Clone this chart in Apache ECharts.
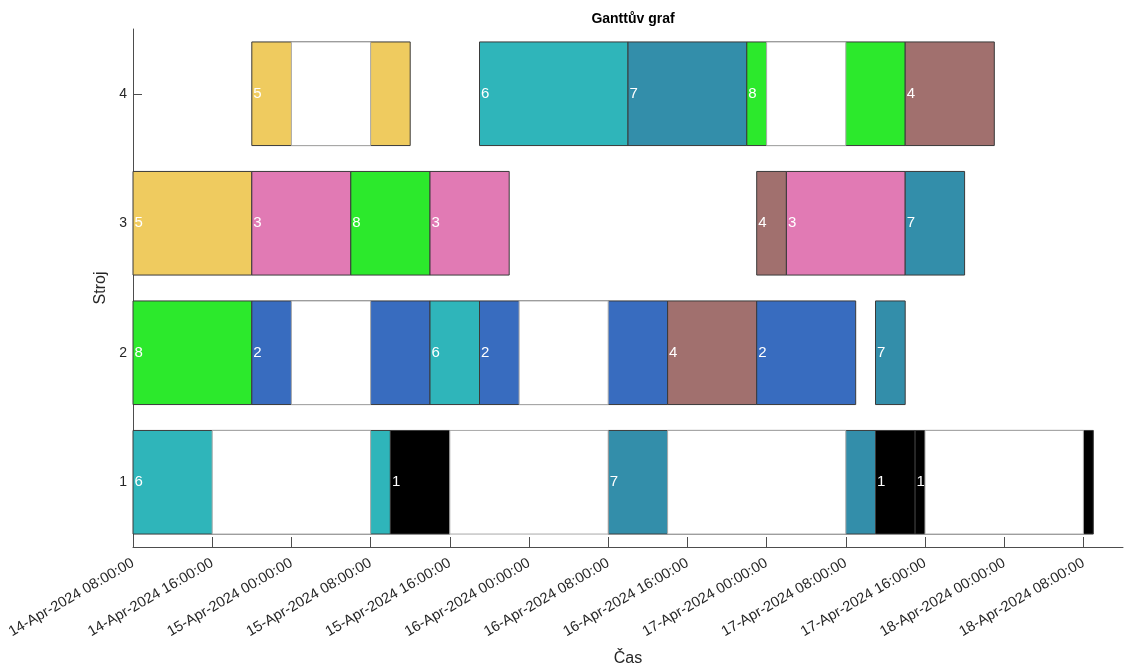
<!DOCTYPE html>
<html>
<head>
<meta charset="utf-8">
<title>Ganttův graf</title>
<script src="https://cdn.jsdelivr.net/npm/echarts@6/dist/echarts.min.js"></script>
<style>
  html, body { margin: 0; padding: 0; background: #fff; }
  #chart { width: 1125px; height: 669px; }
</style>
</head>
<body>
<div id="chart"></div>
<script>
// hours counted from 14-Apr-2024 08:00:00
var machines = ['1', '2', '3', '4'];
var xTicks = [0, 8, 16, 24, 32, 40, 48, 56, 64, 72, 80, 88, 96];

// operations: [machine index, start h, end h, job]
var machine1 = [[0, 0, 26, 6], [0, 26, 32, 1], [0, 48, 75, 7], [0, 75, 79, 1], [0, 79, 97, 1]];
var machine2 = [[1, 0, 12, 8], [1, 12, 30, 2], [1, 30, 35, 6], [1, 35, 54, 2], [1, 54, 63, 4], [1, 63, 73, 2], [1, 75, 78, 7]];
var machine3 = [[2, 0, 12, 5], [2, 12, 22, 3], [2, 22, 30, 8], [2, 30, 38, 3], [2, 63, 66, 4], [2, 66, 78, 3], [2, 78, 84, 7]];
var machine4 = [[3, 12, 28, 5], [3, 35, 50, 6], [3, 50, 62, 7], [3, 62, 78, 8], [3, 78, 87, 4]];

// idle (white) blocks: [machine index, start h, end h]
var idle = [[0, 8, 24], [0, 32, 48], [0, 54, 72], [0, 80, 96],
            [1, 16, 24], [1, 39, 48],
            [3, 16, 24], [3, 64, 72]];

var jobColors = {
  1: '#000000',
  2: '#386cbf',
  3: '#e17ab4',
  4: '#a1706e',
  5: '#efcb5f',
  6: '#2fb5ba',
  7: '#338eaa',
  8: '#2ce92c'
};

var months = ['Jan','Feb','Mar','Apr','May','Jun','Jul','Aug','Sep','Oct','Nov','Dec'];
function pad(n) { return (n < 10 ? '0' : '') + n; }
function hourLabel(h) {
  var d = new Date(Date.UTC(2024, 3, 14, 8) + h * 3600 * 1000);
  return pad(d.getUTCDate()) + '-' + months[d.getUTCMonth()] + '-' + d.getUTCFullYear() + ' ' +
    pad(d.getUTCHours()) + ':' + pad(d.getUTCMinutes()) + ':00';
}

var tasks = machine1.concat(machine2, machine3, machine4).map(function (t) {
  return { value: [t[1], t[2], t[0], t[3]] };
});
var idleData = idle.map(function (t) { return { value: [t[1], t[2], t[0]] }; });

function renderTask(params, api) {
  var y = api.value(2);
  var a = api.coord([api.value(0), y]);
  var b = api.coord([api.value(1), y]);
  var h = api.size([0, 1])[1] * 0.8;
  var job = api.value(3);
  return {
    type: 'rect',
    shape: { x: a[0], y: a[1] - h / 2, width: b[0] - a[0], height: h },
    style: { fill: jobColors[job], stroke: '#3a3a3a', lineWidth: 1 },
    textContent: {
      style: { text: String(job), fill: '#ffffff', fontSize: 15, fontFamily: 'Liberation Sans, Arial, sans-serif' }
    },
    textConfig: { position: 'insideLeft', distance: 2 }
  };
}

function renderIdle(params, api) {
  var y = api.value(2);
  var a = api.coord([api.value(0), y]);
  var b = api.coord([api.value(1), y]);
  var h = api.size([0, 1])[1] * 0.8;
  return {
    type: 'rect',
    shape: { x: a[0], y: a[1] - h / 2, width: b[0] - a[0], height: h },
    style: { fill: '#ffffff', stroke: '#a8a8a8', lineWidth: 1 }
  };
}

var chart = echarts.init(document.getElementById('chart'));
var option = {
  animation: false,
  textStyle: { fontFamily: 'Liberation Sans, Arial, sans-serif' },
  title: {
    text: 'Ganttův graf',
    left: 628,
    textAlign: 'center',
    top: 7,
    textStyle: { fontSize: 14, fontWeight: 'bold', color: '#000' }
  },
  grid: { left: 133, right: 2, top: 29, bottom: 122, outerBoundsMode: 'none', containLabel: false },
  xAxis: {
    type: 'value',
    min: 0,
    max: 100,
    interval: 8,
    name: 'Čas',
    nameLocation: 'middle',
    nameGap: 104,
    nameTextStyle: { fontSize: 16, color: '#262626' },
    splitLine: { show: false },
    axisLine: { show: true, lineStyle: { color: '#4d4d4d' } },
    axisTick: { show: true, inside: true, length: 10, lineStyle: { color: '#4d4d4d' } },
    axisLabel: {
      rotate: 30,
      fontSize: 14.6,
      color: '#262626',
      margin: 15,
      showMaxLabel: false,
      formatter: function (v) { return xTicks.indexOf(v) >= 0 ? hourLabel(v) : ''; }
    }
  },
  yAxis: {
    type: 'category',
    data: machines,
    name: 'Stroj',
    nameLocation: 'middle',
    nameGap: 20,
    nameTextStyle: { fontSize: 16, color: '#262626' },
    axisLine: { show: true, lineStyle: { color: '#4d4d4d' } },
    axisTick: { show: true, inside: true, length: 9, alignWithLabel: true, lineStyle: { color: '#4d4d4d' } },
    axisLabel: { fontSize: 14, color: '#262626', margin: 6 },
    splitLine: { show: false }
  },
  series: [
    {
      type: 'custom',
      renderItem: renderTask,
      encode: { x: [0, 1], y: 2 },
      data: tasks,
      z: 2
    },
    {
      type: 'custom',
      renderItem: renderIdle,
      encode: { x: [0, 1], y: 2 },
      data: idleData,
      z: 3
    }
  ]
};
chart.setOption(option);
</script>
</body>
</html>
